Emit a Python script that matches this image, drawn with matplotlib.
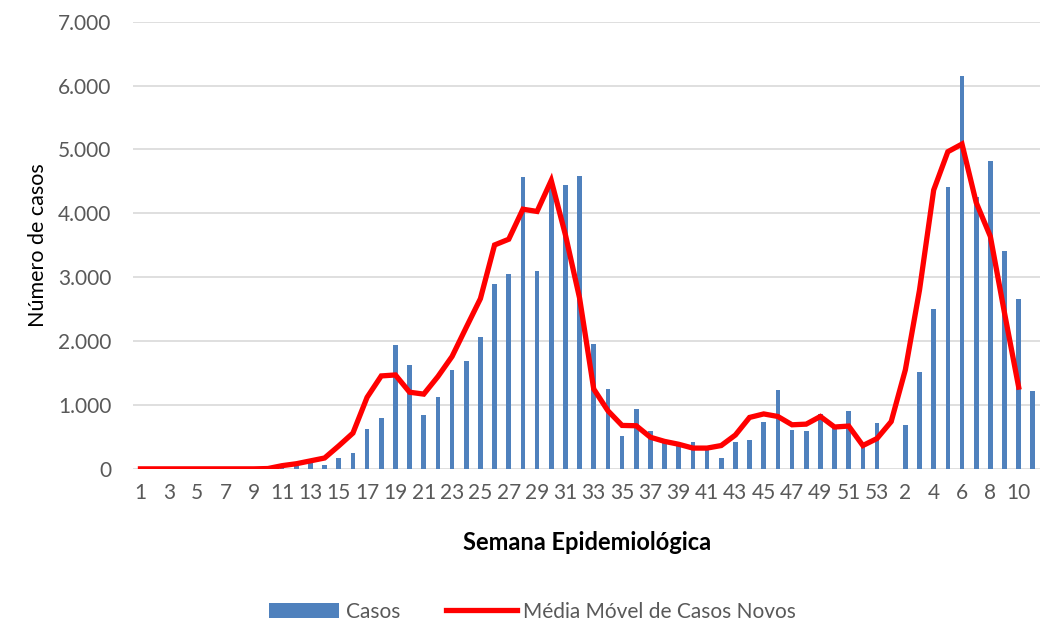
import matplotlib.pyplot as plt
import numpy as np
from matplotlib.ticker import FuncFormatter

# semanas epidemiologicas: 1..53 (2020) e 1..11 (2021)
semanas = list(range(1, 54)) + list(range(1, 12))

casos = [0, 0, 0, 0, 0, 0, 0, 0, 0, 0,
         30, 50, 90, 60, 170, 255, 630, 790, 1940, 1620,
         840, 1120, 1550, 1685, 2060, 2890, 3050, 4565, 3100, 4450,
         4440, 4590, 1960, 1255, 510, 930, 600, 400, 350, 425,
         300, 175, 425, 445, 730, 1230, 610, 585, 865, 640,
         910, 360, 715, 0, 680, 1515, 2500, 4405, 6150, 4250,
         4820, 3415, 2655, 1215]

media_movel = [0, 0, 0, 0, 0, 0, 0, 0, 0, 5,
               50, 80, 125, 170, 360, 560, 1120, 1455, 1470, 1200,
               1170, 1445, 1760, 2215, 2665, 3505, 3595, 4065, 4030, 4515,
               3665, 2675, 1250, 910, 680, 675, 495, 430, 385, 325,
               325, 365, 530, 805, 860, 820, 690, 700, 820, 655,
               670, 365, 475, 740, 1550, 2800, 4365, 4965, 5085, 4170,
               3640, 2440, 1280]

plt.rcParams['font.family'] = ['Lato', 'DejaVu Sans']

fig = plt.figure(figsize=(10.42, 6.21), dpi=100)
ax = fig.add_axes([0.128, 0.245, 0.87, 0.72])

x = np.arange(len(semanas))
barras = ax.bar(x, casos, width=0.33, color='#4F81BD', label='Casos', zorder=2)
linha, = ax.plot(x[:len(media_movel)], media_movel, color='#FF0000', linewidth=3.8,
                 label='Média Móvel de Casos Novos', zorder=3, solid_joinstyle='miter')

ax.set_ylim(0, 7000)
ax.set_yticks(range(0, 7001, 1000))
ax.yaxis.set_major_formatter(FuncFormatter(lambda v, p: f'{int(v):,}'.replace(',', '.')))
ax.set_xlim(-0.5, len(semanas) - 0.5)
ax.set_xticks(x[::2])
ax.set_xticklabels([str(s) for s in semanas[::2]])

ax.grid(axis='y', color='#D9D9D9', linewidth=1.2, zorder=0)
for s in ['top', 'right', 'left', 'bottom']:
    ax.spines[s].set_visible(False)
ax.tick_params(axis='both', length=0, labelsize=15, colors='#595959', pad=10)
ax.tick_params(axis='y', pad=16)

ax.set_xlabel('Semana Epidemiológica', fontsize=17, fontweight='bold', labelpad=20)
ax.set_ylabel('Número de casos', fontsize=15.5, labelpad=7)

ax.legend([barras, linha], ['Casos', 'Média Móvel de Casos Novos'],
          loc='upper center', bbox_to_anchor=(0.44, -0.255), ncol=2, frameon=False,
          fontsize=15, labelcolor='#595959', handlelength=3.4, columnspacing=2.2,
          handletextpad=0.3)

fig.savefig('out.png', dpi=100)
